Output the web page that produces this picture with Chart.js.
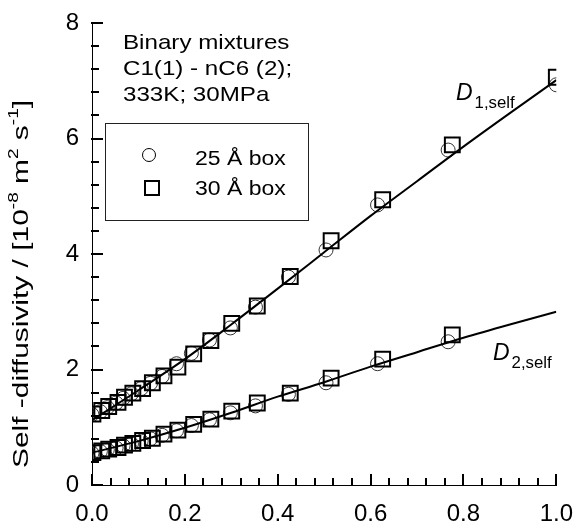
<!DOCTYPE html>
<html><head><meta charset="utf-8">
<script src="https://cdn.jsdelivr.net/npm/chart.js@4/dist/chart.umd.min.js"></script>
<style>html,body{margin:0;padding:0;background:#fff}#wrap{width:580px;height:525px}</style>
</head><body><div id="wrap"><canvas id="c" width="580" height="525"></canvas></div>
<script>
// ---- data ----
const x25 = [0.000, 0.018, 0.033, 0.052, 0.067, 0.085, 0.106, 0.126, 0.151, 0.182, 0.214, 0.253, 0.298, 0.352, 0.423, 0.504, 0.615, 0.767, 1.000];
const d1_25 = [1.22, 1.27, 1.34, 1.42, 1.50, 1.58, 1.67, 1.76, 1.88, 2.10, 2.28, 2.51, 2.72, 3.08, 3.60, 4.07, 4.85, 5.80, 6.93];
const d2_25 = [0.55, 0.58, 0.61, 0.64, 0.68, 0.71, 0.76, 0.80, 0.86, 0.94, 1.03, 1.13, 1.25, 1.37, 1.57, 1.77, 2.10, 2.48, null];
const x30 = [0.002, 0.021, 0.036, 0.056, 0.070, 0.088, 0.109, 0.130, 0.155, 0.185, 0.219, 0.256, 0.301, 0.356, 0.427, 0.515, 0.626, 0.776, 1.000];
const d1_30 = [1.23, 1.29, 1.36, 1.43, 1.52, 1.59, 1.67, 1.77, 1.89, 2.04, 2.27, 2.50, 2.80, 3.10, 3.61, 4.23, 4.94, 5.89, 7.06];
const d2_30 = [0.56, 0.59, 0.62, 0.65, 0.69, 0.72, 0.77, 0.81, 0.88, 0.95, 1.05, 1.14, 1.28, 1.42, 1.59, 1.85, 2.18, 2.60, null];
const xFit = [0.0, 0.1, 0.2, 0.3, 0.4, 0.5, 0.6, 0.7, 0.8, 0.9, 1.0];
const d1Fit = [1.12, 1.64, 2.18, 2.78, 3.40, 4.03, 4.66, 5.26, 5.86, 6.44, 7.01];
const d2Fit = [0.56, 0.76, 0.99, 1.25, 1.53, 1.78, 2.05, 2.30, 2.55, 2.78, 3.00];
const xTickLabels = ['0.0', '0.2', '0.4', '0.6', '0.8', '1.0'];
const yTickLabels = ['0', '2', '4', '6', '8'];
const seriesNames = ['25 Å box', '30 Å box'];
const noteLines = ['Binary mixtures', 'C1(1) - nC6 (2);', '333K; 30MPa'];

const FONT = "'Liberation Sans', Arial, sans-serif";
const pts = (xv, yv) => xv.map((x, i) => ({x: x, y: yv[i]})).filter(p => p.y !== null);

function stretchText(ctx, txt, x, y, size, opts) {
  opts = opts || {};
  const sx = opts.sx || 1.12;
  ctx.save();
  ctx.font = (opts.italic ? 'italic ' : '') + size + 'px ' + FONT;
  ctx.fillStyle = '#000';
  ctx.textBaseline = 'alphabetic';
  ctx.textAlign = 'left';
  ctx.translate(x, y);
  ctx.scale(sx, 1);
  ctx.fillText(txt, 0, 0);
  const w = ctx.measureText(txt).width * sx;
  ctx.restore();
  return w;
}

function drawTicks(chart) {
  const ctx = chart.ctx;
  const area = chart.chartArea;
  const sY = chart.scales.y, sX = chart.scales.x;
  const yBot = Math.round(sX.top);
  const x0 = Math.round(sY.right);
  ctx.save();
  ctx.globalCompositeOperation = 'source-over';
  ctx.globalAlpha = 1;
  ctx.fillStyle = '#000000';
  for (let i = 0; i <= 25; i++) {
    const px = Math.round(area.left + (area.right - area.left) * (i / 25));
    const len = (i % 5 === 0) ? 11 : 7;
    ctx.fillRect(px - 1, yBot - len, 2, len + 1);
  }
  for (let i = 0; i <= 20; i++) {
    const py = Math.round(sY.getPixelForValue(i * 0.4));
    const len = (i % 5 === 0) ? 11 : 7;
    ctx.fillRect(x0 - 1, py - 1, len + 1, 2);
  }
  ctx.restore();
}

const decor = {
  id: 'decor',
  afterDatasetsDraw(chart) { drawTicks(chart); },
  afterDraw(chart) {
    const ctx = chart.ctx;
    drawTicks(chart);

    // y-axis title with superscripts
    ctx.save();
    ctx.translate(28, 284);
    ctx.rotate(-Math.PI / 2);
    const parts = [['Self -diffusivity / [10', 0], ['-8', 1], [' m', 0], ['2', 1], [' s', 0], ['-1', 1], [']', 0]];
    const big = 22, small = 14;
    const sx = 1.36;
    let total = 0;
    parts.forEach(p => { ctx.font = (p[1] ? small : big) + 'px ' + FONT; total += ctx.measureText(p[0]).width; });
    ctx.scale(sx, 1);
    let cx = -total / 2;
    ctx.fillStyle = '#000';
    ctx.textBaseline = 'alphabetic';
    parts.forEach(p => {
      ctx.font = (p[1] ? small : big) + 'px ' + FONT;
      ctx.fillText(p[0], cx, p[1] ? -10 : 0);
      cx += ctx.measureText(p[0]).width;
    });
    ctx.restore();

    // annotation text
    noteLines.forEach((t, i) => stretchText(ctx, t, 123, 49 + i * 26, 21, {sx: 1.15}));

    // legend box
    ctx.save();
    ctx.strokeStyle = '#222';
    ctx.lineWidth = 1;
    ctx.strokeRect(105.5, 123.5, 203, 97);
    ctx.beginPath(); ctx.arc(149, 155, 6.5, 0, Math.PI * 2); ctx.lineWidth = 1; ctx.strokeStyle = '#000'; ctx.stroke();
    ctx.lineWidth = 2; ctx.strokeRect(145, 181, 14, 14);
    ctx.restore();
    stretchText(ctx, seriesNames[0], 195, 165, 20, {sx: 1.15});
    stretchText(ctx, seriesNames[1], 195, 195, 20, {sx: 1.15});

    // curve labels
    let w = stretchText(ctx, 'D', 456, 100, 23, {italic: true, sx: 1.0});
    stretchText(ctx, '1,self', 456 + w + 2, 108, 16, {sx: 1.05});
    w = stretchText(ctx, 'D', 493, 360, 23, {italic: true, sx: 1.0});
    stretchText(ctx, '2,self', 493 + w + 2, 368, 16, {sx: 1.05});
  }
};

new Chart(document.getElementById('c'), {
  type: 'scatter',
  data: {
    datasets: [
      {label: 'D1 fit', data: pts(xFit, d1Fit), showLine: true, borderColor: '#000', borderWidth: 2, pointRadius: 0, cubicInterpolationMode: 'monotone', order: 0},
      {label: 'D2 fit', data: pts(xFit, d2Fit), showLine: true, borderColor: '#000', borderWidth: 2, pointRadius: 0, cubicInterpolationMode: 'monotone', order: 0},
      {label: seriesNames[1] + ' D1', data: pts(x30, d1_30), pointStyle: 'rect', pointRadius: 10.5, borderColor: '#000', borderWidth: 2, backgroundColor: 'rgba(0,0,0,0)', order: 1},
      {label: seriesNames[1] + ' D2', data: pts(x30, d2_30), pointStyle: 'rect', pointRadius: 10.5, borderColor: '#000', borderWidth: 2, backgroundColor: 'rgba(0,0,0,0)', order: 1},
      {label: seriesNames[0] + ' D1', data: pts(x25, d1_25), pointStyle: 'circle', pointRadius: 7, borderColor: '#333', borderWidth: 1, backgroundColor: 'rgba(0,0,0,0)', order: 2},
      {label: seriesNames[0] + ' D2', data: pts(x25, d2_25), pointStyle: 'circle', pointRadius: 7, borderColor: '#333', borderWidth: 1, backgroundColor: 'rgba(0,0,0,0)', order: 2}
    ]
  },
  options: {
    responsive: false,
    animation: false,
    devicePixelRatio: 1,
    layout: {padding: {top: 23, right: 20, left: 0, bottom: 0}},
    plugins: {legend: {display: false}, tooltip: {enabled: false}},
    scales: {
      x: {
        type: 'linear', min: 0, max: 1,
        grid: {display: false},
        border: {display: true, color: '#000', width: 1},
        ticks: {stepSize: 0.2, padding: 7, color: '#000', font: {family: FONT, size: 24},
          callback: (v, i) => xTickLabels[i]},
        afterFit: s => { s.height = 40; }
      },
      y: {
        type: 'linear', min: 0, max: 8,
        grid: {display: false},
        border: {display: true, color: '#000', width: 1},
        ticks: {stepSize: 2, padding: 5, color: '#000', font: {family: FONT, size: 24},
          callback: (v, i) => yTickLabels[i]},
        afterFit: s => { s.width = 92; }
      }
    }
  },
  plugins: [decor]
});
</script>
</body></html>
